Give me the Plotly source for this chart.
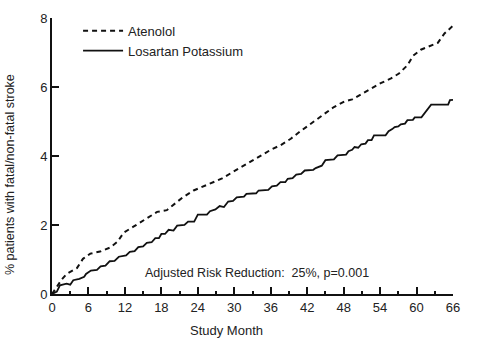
import plotly.graph_objects as go

# Atenolol (dashed)
aten_month = [0, 0.8, 1.6, 2.4, 3.3, 4.1, 5.1, 6.3, 7.9, 9.6, 10.8, 11.8, 13.4, 15.6, 17.3,
              18.9, 20.2, 21.5, 23.3, 25.2, 26.6, 28.0, 29.6, 31.6, 32.9, 34.6, 36.2, 37.6,
              39.3, 40.6, 42.0, 43.1, 44.8, 46.4, 48.1, 49.4, 50.8, 52.7, 54.1, 55.8, 57.1,
              58.5, 59.4, 60.7, 62.1, 63.5, 64.6, 65.9]
aten_pct = [0, 0.22, 0.42, 0.58, 0.66, 0.75, 1.02, 1.17, 1.23, 1.35, 1.52, 1.78, 1.95, 2.19, 2.38,
            2.43, 2.62, 2.80, 3.00, 3.15, 3.25, 3.35, 3.52, 3.72, 3.87, 4.02, 4.20, 4.31,
            4.50, 4.68, 4.86, 5.00, 5.20, 5.42, 5.58, 5.64, 5.78, 5.97, 6.11, 6.25, 6.39,
            6.63, 6.90, 7.08, 7.18, 7.28, 7.55, 7.76]

# Losartan Potassium (solid)
los_month = [0, 0.8, 1.3, 2.4, 3.0, 3.5, 4.5, 5.3, 5.6, 6.4, 7.4, 8.0, 8.8, 9.5, 10.3, 11.0,
             12.2, 12.8, 13.6, 14.2, 15.0, 15.6, 16.4, 17.0, 17.6, 18.0, 18.6, 19.2, 20.0,
             20.6, 21.8, 22.4, 23.4, 24.0, 25.5, 26.0, 26.9, 27.6, 28.3, 29.0, 29.8, 30.4,
             31.6, 32.0, 33.6, 34.0, 35.6, 36.2, 37.0, 37.6, 38.4, 38.8, 39.6, 40.2, 41.0,
             41.6, 43.0, 43.4, 44.4, 45.0, 46.4, 47.0, 48.4, 48.8, 49.4, 49.8, 50.4, 50.9,
             51.6, 52.0, 52.6, 53.0, 54.9, 55.4, 56.0, 56.4, 57.0, 57.4, 58.1, 58.5, 59.4,
             59.7, 60.8, 62.4, 65.2, 65.5, 66.0]
los_pct = [0, 0.07, 0.25, 0.30, 0.27, 0.40, 0.44, 0.50, 0.58, 0.68, 0.70, 0.80, 0.82, 0.95, 0.96, 1.08,
           1.12, 1.22, 1.24, 1.36, 1.38, 1.48, 1.50, 1.62, 1.62, 1.74, 1.74, 1.86, 1.84,
           1.98, 2.00, 2.10, 2.10, 2.30, 2.30, 2.40, 2.45, 2.55, 2.52, 2.68, 2.70, 2.80,
           2.82, 2.90, 2.92, 3.00, 3.02, 3.12, 3.14, 3.24, 3.24, 3.34, 3.36, 3.46, 3.48,
           3.58, 3.60, 3.65, 3.72, 3.88, 3.90, 4.02, 4.04, 4.14, 4.18, 4.26, 4.24, 4.34,
           4.36, 4.46, 4.46, 4.60, 4.60, 4.72, 4.78, 4.84, 4.86, 4.92, 4.94, 5.04, 5.05,
           5.12, 5.12, 5.49, 5.49, 5.62, 5.63]

x_ticks = list(range(0, 67, 6))
y_ticks = [0, 2, 4, 6, 8]

FONT = "Liberation Sans Narrow, Arial Narrow, Liberation Sans, Arial, sans-serif"

fig = go.Figure()
fig.add_trace(go.Scatter(x=aten_month, y=aten_pct, mode="lines", name="Atenolol",
                         line=dict(color="#111111", width=2, dash="5px,4px")))
fig.add_trace(go.Scatter(x=los_month, y=los_pct, mode="lines", name="Losartan Potassium",
                         line=dict(color="#111111", width=1.8)))

fig.update_layout(
    width=498, height=348,
    margin=dict(l=52, r=45, t=11, b=54),
    paper_bgcolor="white", plot_bgcolor="white",
    font=dict(family=FONT, size=13, color="#222222"),
    showlegend=True,
    legend=dict(x=0.065, y=1.008, xanchor="left", yanchor="top",
                bgcolor="rgba(0,0,0,0)", font=dict(size=13), itemwidth=40,
                tracegroupgap=0),
    xaxis=dict(range=[0, 66], tickvals=x_ticks, ticks="inside", ticklen=7, tickwidth=2,
               tickcolor="#111111", showline=True, linewidth=2, linecolor="#111111",
               showgrid=False, zeroline=False, tickfont=dict(size=13),
               minor=dict(dtick=3, tick0=0, ticks="inside", ticklen=3, tickwidth=2,
                          tickcolor="#111111", showgrid=False)),
    yaxis=dict(range=[0, 8], tickvals=y_ticks, ticks="inside", ticklen=7, tickwidth=2,
               tickcolor="#111111", showline=True, linewidth=2, linecolor="#111111",
               showgrid=False, zeroline=False, tickfont=dict(size=13)),
    annotations=[
        dict(text="Study Month", xref="paper", yref="paper",
             x=(226 - 52) / 401, y=(294 - 331) / 283, xanchor="center", yanchor="middle",
             showarrow=False, font=dict(size=13)),
        dict(text="% patients with fatal/non-fatal stroke", xref="paper", yref="paper",
             x=(10 - 52) / 401, y=(294 - 172) / 283, xanchor="center", yanchor="middle",
             textangle=-90, showarrow=False, font=dict(size=12.5)),
        dict(text="Adjusted Risk Reduction:  25%, p=0.001", xref="paper", yref="paper",
             x=(257 - 52) / 401, y=(294 - 272) / 283, xanchor="center", yanchor="middle",
             showarrow=False, font=dict(size=12.5)),
    ],
)

fig.write_html("out.html")
